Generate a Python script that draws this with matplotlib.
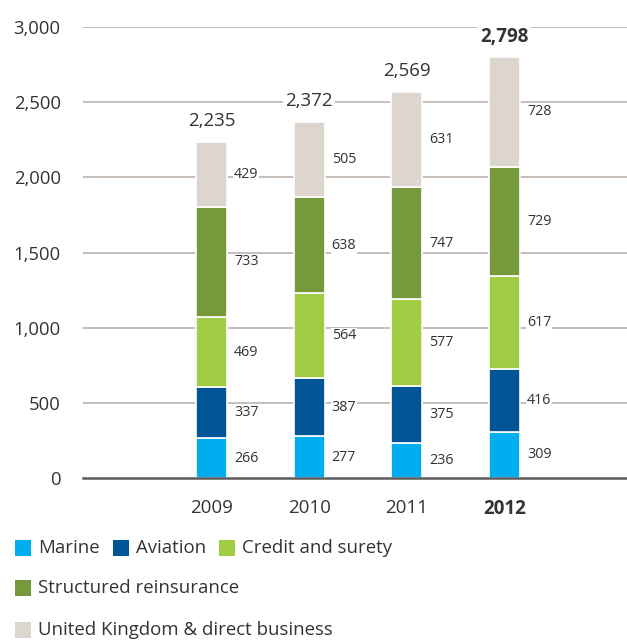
import matplotlib.pyplot as plt
from matplotlib.patches import Rectangle
import numpy as np

plt.rcParams['font.family'] = ['Open Sans', 'DejaVu Sans']

years = ['2009', '2010', '2011', '2012']
series_names = ['Marine', 'Aviation', 'Credit and surety',
                'Structured reinsurance', 'United Kingdom & direct business']
marine = [266, 277, 236, 309]
aviation = [337, 387, 375, 416]
credit = [469, 564, 577, 617]
structured = [733, 638, 747, 729]
uk_direct = [429, 505, 631, 728]
totals = [2235, 2372, 2569, 2798]

colors = ['#00aeef', '#005596', '#a1cd45', '#76993c', '#ddd6cf']
text_color = '#333333'
grid_color = '#bdb3ab'

fig = plt.figure(figsize=(6.27, 6.41), dpi=100)
ax = fig.add_axes([83 / 627, 1 - 478 / 641, 1 - 83 / 627, (478 - 27) / 641])

x = np.arange(len(years))
width = 0.32
bottom = np.zeros(len(years))
for vals, color in zip([marine, aviation, credit, structured, uk_direct], colors):
    vals = np.array(vals)
    ax.bar(x, vals, width, bottom=bottom, color=color, edgecolor='white',
           linewidth=1.2, zorder=3)
    for xi, b, v in zip(x, bottom, vals):
        ax.annotate(f'{v:,}', (xi + width / 2, b + v / 2), xytext=(5, 0),
                    textcoords='offset points', ha='left', va='center',
                    fontsize=10.3, color=text_color, zorder=4,
                    bbox=dict(facecolor='white', edgecolor='none', pad=0.5))
    bottom += vals

for i, t in enumerate(totals):
    ax.annotate(f'{t:,}', (x[i], t), xytext=(0, 15), textcoords='offset points',
                ha='center', va='center', fontsize=13.5, color=text_color,
                fontweight='bold' if i == len(totals) - 1 else 'normal',
                zorder=4, annotation_clip=False,
                bbox=dict(facecolor='white', edgecolor='none', pad=1.5))

ax.set_xlim(-1.315, 4.254)
ax.set_ylim(0, 3000)
ax.set_yticks(range(0, 3001, 500))
ax.set_yticklabels([f'{v:,}' for v in range(0, 3001, 500)])
ax.tick_params(axis='y', length=0, pad=16, labelsize=13.3, labelcolor=text_color)
ax.set_xticks(x)
ax.set_xticklabels(years)
ax.tick_params(axis='x', length=0, pad=15, labelsize=13.5, labelcolor=text_color)
ax.get_xticklabels()[-1].set_fontweight('bold')

for y in range(500, 3001, 500):
    ax.axhline(y, color=grid_color, linewidth=1.2, zorder=1)
ax.axhline(0, color='#5a5a5a', linewidth=1.8, zorder=5, clip_on=False)
for s in ax.spines.values():
    s.set_visible(False)

# legend laid out in three rows under the plot
legend_rows = [[0, 1, 2], [3], [4]]
row_y = [548, 588, 630]
for row, yp in zip(legend_rows, row_y):
    xp = 15
    for idx in row:
        fig.patches.append(Rectangle((xp / 627, 1 - (yp + 8) / 641), 16 / 627, 16 / 641,
                                     transform=fig.transFigure, facecolor=colors[idx],
                                     edgecolor='none'))
        t = fig.text((xp + 23) / 627, 1 - yp / 641, series_names[idx],
                     fontsize=13.4, color=text_color, va='center', ha='left')
        fig.canvas.draw()
        bb = t.get_window_extent()
        xp = bb.x1 + 13

fig.savefig('out.png', dpi=100)
